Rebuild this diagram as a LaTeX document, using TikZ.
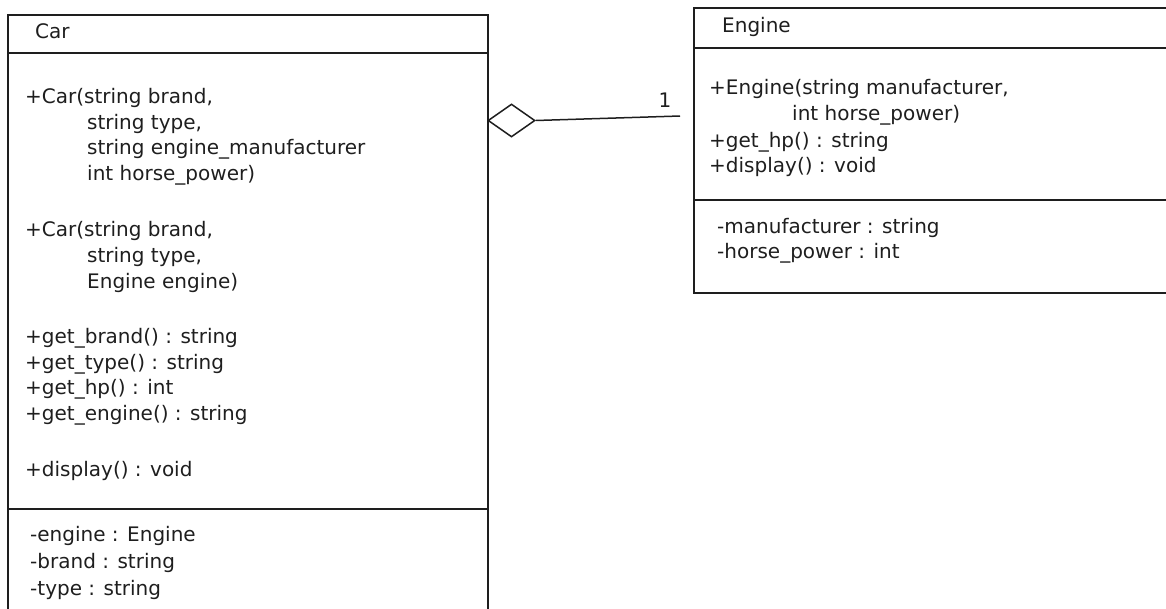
\documentclass[tikz,border=0pt]{standalone}
\usepackage{fontspec}
\setmainfont{DejaVu Sans}
\usetikzlibrary{shapes.geometric}
\definecolor{ink}{HTML}{1E1E1E}
\begin{document}
\begin{tikzpicture}[x=1pt,y=-1pt,
  boxline/.style={draw=ink, line width=1.5pt},
  classbox/.style={boxline, anchor=north west, inner sep=0pt},
  txt/.style={anchor=base west, inner sep=0pt, text=ink, font=\fontsize{20}{25}\selectfont},
]
\clip (0,0) rectangle (1166,608);
% ---------- Car class ----------
\node[classbox, minimum width=480pt, minimum height=640pt] (car) at (7,14) {};
\draw[boxline] (car.west |- 0,53) -- (car.east |- 0,53);
\draw[boxline] (car.west |- 0,509) -- (car.east |- 0,509);
\node[txt] (cartitle) at (35,38) {Car};
\node[txt] (c1) at (25,103) {+Car(string brand,};
\node[txt] (c2) at (87,129) {string type,};
\node[txt] (c3) at (87,154) {string engine\_manufacturer};
\node[txt] (c4) at (87,180) {int horse\_power)};
\node[txt] (c5) at (25,236) {+Car(string brand,};
\node[txt] (c6) at (87,262) {string type,};
\node[txt] (c7) at (87,288) {Engine engine)};
\node[txt] (c8) at (25,343) {+get\_brand() : string};
\node[txt] (c9) at (25,369) {+get\_type() : string};
\node[txt] (c10) at (25,394) {+get\_hp() : int};
\node[txt] (c11) at (25,420) {+get\_engine() : string};
\node[txt] (c12) at (25,476) {+display() : void};
\node[txt] (ca1) at (30,541) {-engine : Engine};
\node[txt] (ca2) at (30,568) {-brand : string};
\node[txt] (ca3) at (30,595) {-type : string};
% ---------- Engine class ----------
\node[classbox, minimum width=500pt, minimum height=285pt] (engine) at (693,7) {};
\draw[boxline] (engine.west |- 0,48) -- (engine.east |- 0,48);
\draw[boxline] (engine.west |- 0,200) -- (engine.east |- 0,200);
\node[txt] (etitle) at (722,32) {Engine};
\node[txt] (e1) at (709,94) {+Engine(string manufacturer,};
\node[txt] (e2) at (792,120) {int horse\_power)};
\node[txt] (e3) at (709,147) {+get\_hp() : string};
\node[txt] (e4) at (709,172) {+display() : void};
\node[txt] (ea1) at (717,233) {-manufacturer : string};
\node[txt] (ea2) at (717,258) {-horse\_power : int};
% ---------- aggregation ----------
\node[diamond, boxline, fill=white, inner sep=0pt, minimum width=47pt, minimum height=33pt] (agg) at (511.5,120.5) {};
\coordinate (aggend) at (680,116);
\draw[boxline] (agg.east) -- (aggend);
\node[anchor=base, inner sep=0pt, text=ink, font=\fontsize{20}{22}\selectfont] (mult) at (665,107) {1};
\end{tikzpicture}
\end{document}
